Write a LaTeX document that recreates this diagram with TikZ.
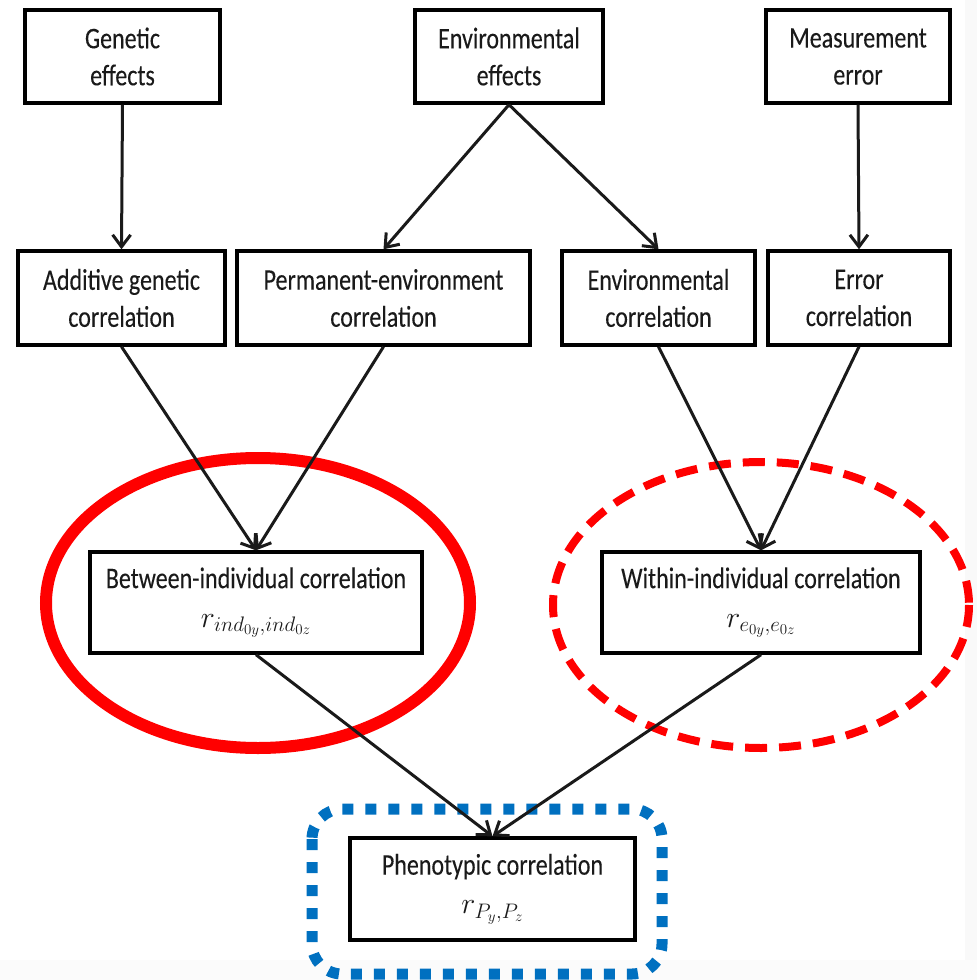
\documentclass[tikz,border=0pt]{standalone}
\usepackage{fix-cm}
\usepackage{fontspec}
\setmainfont{Carlito}[FakeStretch=0.8, FakeBold=0.15]
\usetikzlibrary{arrows.meta}
\definecolor{inkgray}{HTML}{1A1A1A}
\definecolor{hlred}{HTML}{FF0000}
\definecolor{hlblue}{HTML}{0070C0}
\tikzset{
  box/.style={draw=black, line width=3.4pt, fill=white, inner sep=0pt,
    align=center, text=inkgray, font=\fontsize{30}{37}\selectfont},
  link/.style={draw=inkgray, line width=3pt,
    -{Straight Barb[length=12pt,width=18pt,line width=3pt]}},
}
\begin{document}
\begin{tikzpicture}[x=1pt, y=-1pt]
\useasboundingbox (0,0) rectangle (977,980);
\fill[white] (0,0) rectangle (977,980);
\fill[gray!5] (965,0) rectangle (977,980);
\fill[gray!3] (0,960) rectangle (977,980);

% highlight outlines behind the boxes
\draw[hlred, line width=12pt] (258,603) ellipse [x radius=212, y radius=145];
\draw[hlred, line width=8pt, dash pattern=on 22pt off 12pt]
  (761,605) ellipse [x radius=208, y radius=143];
\draw[hlblue, line width=11pt, dash pattern=on 11pt off 12pt, rounded corners=30pt]
  (312,809) rectangle (662,974);

% sources
\node[box, minimum width=195pt, minimum height=93pt] (gen)  at (122.5,56.5) {Genetic\\effects};
\node[box, minimum width=188pt, minimum height=93pt] (envE) at (509,56.5)   {Environmental\\effects};
\node[box, minimum width=184pt, minimum height=93pt] (meas) at (858,56.5)   {Measurement\\error};

% component correlations
\node[box, minimum width=207pt, minimum height=94pt] (add)  at (121.5,298) {Additive genetic\\correlation};
\node[box, minimum width=293pt, minimum height=94pt] (perm) at (383.5,298) {Permanent-environment\\correlation};
\node[box, minimum width=193pt, minimum height=94pt] (envC) at (658.5,298) {Environmental\\correlation};
\node[box, minimum width=182pt, minimum height=94pt] (err)  at (859,298)   {Error\\correlation};

% aggregated correlations
\node[box, minimum width=332pt, minimum height=101pt] (betw) at (256,602.5)
  {Between-individual correlation\\[2pt] $r_{ind_{0y},ind_{0z}}$};
\node[box, minimum width=318pt, minimum height=101pt] (with) at (761,602.5)
  {Within-individual correlation\\[2pt] $r_{e_{0y},e_{0z}}$};
\node[box, minimum width=285pt, minimum height=102pt] (phen) at (492.5,889)
  {Phenotypic correlation\\[2pt] $r_{P_y,P_z}$};

% connectors
\draw[link] (gen.south)  -- (add.north);
\draw[link] (envE.south) -- (perm.north);
\draw[link] (envE.south) -- (envC.north);
\draw[link] (meas.south) -- (err.north);
\draw[link] (add.south)  -- (betw.north);
\draw[link] (perm.south) -- (betw.north);
\draw[link] (envC.south) -- (with.north);
\draw[link] (err.south)  -- (with.north);
\draw[link] (betw.south) -- (phen.north);
\draw[link] (with.south) -- (phen.north);
\end{tikzpicture}
\end{document}
